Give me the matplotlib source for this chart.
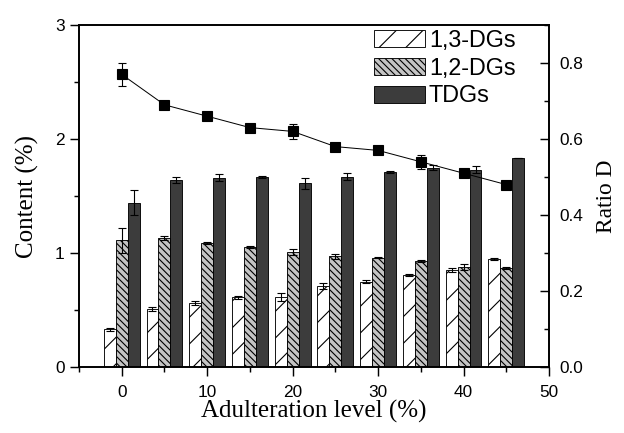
import matplotlib
matplotlib.use("Agg")
import matplotlib.pyplot as plt
from matplotlib.ticker import MultipleLocator, FormatStrFormatter

# Data
levels = [0, 5, 10, 15, 20, 25, 30, 35, 40, 45]

dg13 = [0.33, 0.51, 0.56, 0.61, 0.61, 0.71, 0.75, 0.81, 0.85, 0.95]
dg13_err = [0.01, 0.015, 0.02, 0.01, 0.035, 0.025, 0.01, 0.01, 0.02, 0.01]

dg12 = [1.11, 1.13, 1.09, 1.05, 1.01, 0.97, 0.96, 0.93, 0.88, 0.87]
dg12_err = [0.11, 0.015, 0.01, 0.01, 0.025, 0.025, 0.005, 0.01, 0.025, 0.01]

tdg = [1.44, 1.64, 1.66, 1.665, 1.61, 1.67, 1.71, 1.75, 1.73, 1.83]
tdg_err = [0.11, 0.03, 0.03, 0.01, 0.05, 0.03, 0.01, 0.02, 0.03, 0.0]

ratio = [0.77, 0.69, 0.66, 0.63, 0.62, 0.58, 0.57, 0.54, 0.51, 0.48]
ratio_err = [0.03, 0.005, 0.005, 0.005, 0.02, 0.005, 0.005, 0.018, 0.01, 0.0]

sans = "Liberation Sans"
serif = "Liberation Serif"
plt.rcParams["hatch.linewidth"] = 1.0

fig = plt.figure(figsize=(7.8, 5.4125), dpi=80)
ax = fig.add_axes([79/624, 1-367/433, 470/624, 342/433])

w = 1.4
x13 = [x - w for x in levels]
x12 = levels
xtd = [x + w for x in levels]

ek = dict(ecolor="black", capsize=4, elinewidth=1.0, capthick=1.0)
ax.bar(x13, dg13, width=w, yerr=dg13_err, color="white", edgecolor="black",
       hatch="/", linewidth=0.8, label="1,3-DGs", error_kw=ek)
ax.bar(x12, dg12, width=w, yerr=dg12_err, color="#c4c4c4", edgecolor="black",
       hatch="\\\\\\\\", linewidth=0.8, label="1,2-DGs", error_kw=ek)
ax.bar(xtd, tdg, width=w, yerr=tdg_err, color="#3c3c3c", edgecolor="black",
       linewidth=0.8, label="TDGs", error_kw=ek)

ax.set_xlim(-5, 50)
ax.set_ylim(0, 3)
ax.xaxis.set_major_locator(MultipleLocator(10))
ax.xaxis.set_minor_locator(MultipleLocator(5))
ax.yaxis.set_major_locator(MultipleLocator(1))
ax.yaxis.set_minor_locator(MultipleLocator(0.5))
ax.tick_params(which="both", direction="out", width=1.3, top=False, right=False)
ax.tick_params(which="major", length=8, pad=5)
ax.tick_params(axis="x", which="major", pad=8)
ax.tick_params(which="minor", length=4.5)
for lab in ax.get_xticklabels() + ax.get_yticklabels():
    lab.set_fontfamily(sans)
    lab.set_fontsize(15.5)
for s in ax.spines.values():
    s.set_linewidth(1.5)

ax.set_xlabel("Adulteration level (%)", fontfamily=serif, fontsize=22.5, labelpad=0)
ax.set_ylabel("Content (%)", fontfamily=serif, fontsize=22.5, labelpad=14)

# Ratio D on the right axis
ax2 = ax.twinx()
ax2.errorbar(levels, ratio, yerr=ratio_err, color="black", marker="s",
             markersize=9, linewidth=0.9, capsize=4, elinewidth=1.0,
             ecolor="black")
ax2.set_ylim(0, 0.9)
ax2.yaxis.set_major_locator(MultipleLocator(0.2))
ax2.yaxis.set_minor_locator(MultipleLocator(0.1))
ax2.yaxis.set_major_formatter(FormatStrFormatter("%.1f"))
ax2.tick_params(which="both", direction="in", width=1.3)
ax2.tick_params(which="major", length=8, pad=9)
ax2.tick_params(which="minor", length=4.5)
for lab in ax2.get_yticklabels():
    lab.set_fontfamily(sans)
    lab.set_fontsize(15.5)
for s in ax2.spines.values():
    s.set_linewidth(1.5)
ax2.set_ylabel("Ratio D", fontfamily=serif, fontsize=21, labelpad=12)

leg = ax.legend(loc="upper left", bbox_to_anchor=(374/624, 1-29/433),
                bbox_transform=fig.transFigure, frameon=False,
                prop={"family": sans, "size": 21}, borderpad=0,
                borderaxespad=0, handlelength=2.2, handleheight=0.75,
                handletextpad=0.15, labelspacing=0.2)

fig.savefig("out.png", dpi=80)
